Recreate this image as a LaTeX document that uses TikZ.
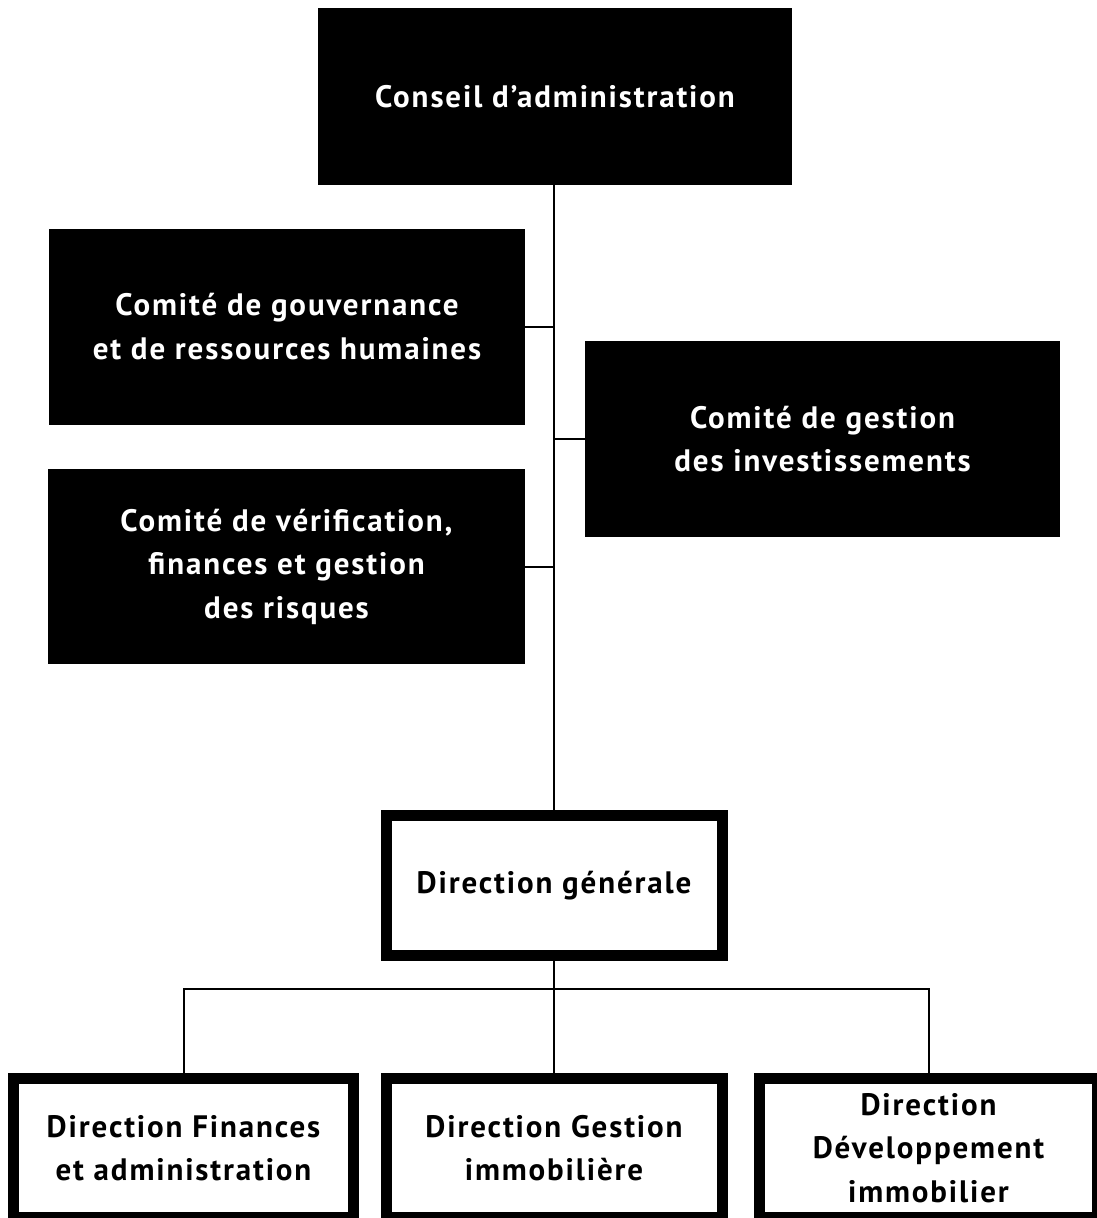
\documentclass[tikz,border=0pt]{standalone}
\usepackage{fontspec}
\setmainfont{PT Sans}
\newfontfamily\dinfont[LetterSpace=6]{PT Sans}
\begin{document}
\begin{tikzpicture}[x=1pt,y=-1pt,
  txt/.style={font=\dinfont\bfseries\fontsize{31}{43.5}\selectfont, align=center, inner sep=0pt, outer sep=0pt},
  darkbox/.style={txt, fill=black, text=white, draw=none},
  whitebox/.style={txt, draw=black, line width=11pt, fill=white, text=black, outer sep=5.5pt},
  link/.style={draw=black, line width=2pt}]
\useasboundingbox (0,0) rectangle (1097,1218);
\clip (0,0) rectangle (1097,1218);
\fill[white] (0,0) rectangle (1097,1218);

\node[darkbox, minimum width=474pt, minimum height=177pt] (conseil) at (555,96.5) {Conseil d’administration};
\node[darkbox, minimum width=476pt, minimum height=196pt] (gouv) at (287,326.5) {Comité de gouvernance\\et de ressources humaines};
\node[darkbox, minimum width=475pt, minimum height=196pt] (invest) at (822.5,439) {Comité de gestion\\des investissements};
\node[darkbox, minimum width=477pt, minimum height=195pt] (verif) at (286.5,566.5) {Comité de vérification,\\finances et gestion\\des risques};

\node[whitebox, minimum width=336pt, minimum height=140pt] (dg) at (554,885.5) {Direction générale};
\node[whitebox, minimum width=340pt, minimum height=139pt] (fin) at (183.5,1148) {Direction Finances\\et administration};
\node[whitebox, minimum width=336pt, minimum height=139pt] (gest) at (554,1148) {Direction Gestion\\immobilière};
\node[whitebox, minimum width=338pt, minimum height=139pt] (dev) at (928.5,1148) {Direction\\Développement\\immobilier};

\coordinate (bus) at (554,989);

\draw[link] (conseil.south -| dg.north) -- (dg.north);
\draw[link] (gouv.east) -- (gouv.east -| dg.north);
\draw[link] (invest.west) -- (invest.west -| dg.north);
\draw[link] (verif.east) -- (verif.east -| dg.north);
\draw[link] (dg.south) -- (gest.north);
\draw[link] (fin.north) |- (bus) -| (dev.north);
\end{tikzpicture}
\end{document}
